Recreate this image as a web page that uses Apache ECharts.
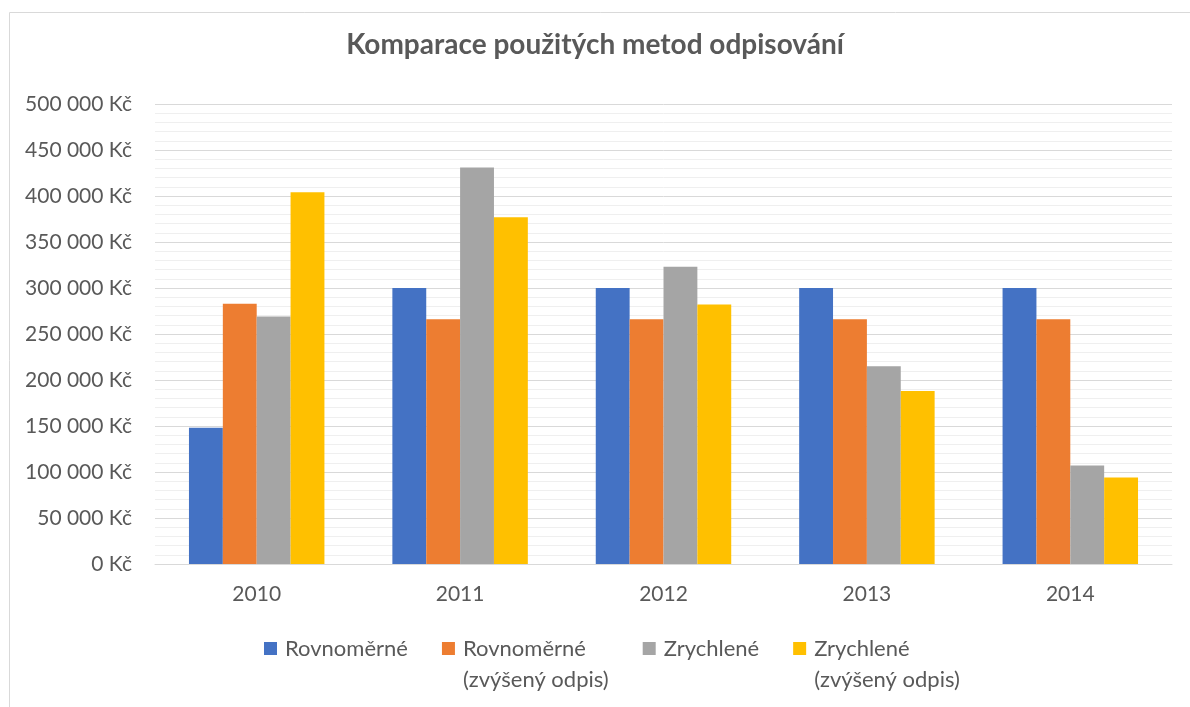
<!DOCTYPE html>
<html>
<head>
<meta charset="utf-8">
<script src="https://cdn.jsdelivr.net/npm/echarts@6/dist/echarts.min.js"></script>
<style>
  html, body { margin: 0; padding: 0; background: #fff; }
  #chart { width: 1190px; height: 707px; }
</style>
</head>
<body>
<div id="chart"></div>
<script>
// data
var years = ['2010', '2011', '2012', '2013', '2014'];
var seriesNames = ['Rovnoměrné', 'Rovnoměrné\n(zvýšený odpis)', 'Zrychlené', 'Zrychlené\n(zvýšený odpis)'];
var rovnomerne = [148000, 300000, 300000, 300000, 300000];
var rovnomerneZvyseny = [283000, 266000, 266000, 266000, 266000];
var zrychlene = [269000, 431000, 323000, 215000, 107000];
var zrychleneZvyseny = [404000, 377000, 282000, 188000, 94000];
var colors = ['#4472C4', '#ED7D31', '#A5A5A5', '#FFC000'];

var textColor = '#595959';
var font = 'Lato';

function kc(v) {
  return String(v).replace(/\B(?=(\d{3})+(?!\d))/g, ' ') + ' Kč';
}

var allData = [rovnomerne, rovnomerneZvyseny, zrychlene, zrychleneZvyseny];
var series = allData.map(function (d, i) {
  return {
    name: seriesNames[i],
    type: 'bar',
    data: d,
    barGap: '0%',
    barCategoryGap: '33.4%',
    itemStyle: { color: colors[i] }
  };
});

var chart = echarts.init(document.getElementById('chart'));
chart.setOption({
  animation: false,
  textStyle: { fontFamily: font },
  color: colors,
  graphic: [{
    type: 'rect',
    shape: { x: 9.5, y: 12.5, width: 1400, height: 900 },
    style: { fill: 'none', stroke: '#d9d9d9', lineWidth: 1 },
    z: -1
  }],
  title: {
    text: 'Komparace použitých metod odpisování',
    left: 'center',
    top: 26,
    padding: [5, 11, 5, 5],
    textStyle: { fontFamily: font, fontSize: 28, fontWeight: 'bold', color: textColor }
  },
  grid: { left: 155, right: 18, top: 104, bottom: 143 },
  xAxis: {
    type: 'category',
    data: years,
    axisLine: { lineStyle: { color: '#d9d9d9', width: 1 } },
    axisTick: { show: false },
    axisLabel: { color: textColor, fontSize: 21, fontFamily: font, margin: 20 }
  },
  yAxis: {
    type: 'value',
    min: 0,
    max: 500000,
    interval: 50000,
    axisLine: { show: false },
    axisTick: { show: false },
    axisLabel: { color: textColor, fontSize: 21, fontFamily: font, margin: 23, formatter: kc },
    splitLine: { lineStyle: { color: '#d9d9d9', width: 1 } },
    minorTick: { show: false, splitNumber: 5 },
    minorSplitLine: { show: true, lineStyle: { color: '#efefef', width: 1 } }
  },
  legend: {
    left: 259,
    top: 597,
    itemWidth: 13,
    itemHeight: 13,
    itemGap: 34,
    icon: 'rect',
    formatter: function (name) {
      // blank first line so the marker sits on the first text line
      var lines = name.split('\n');
      return '\u00a0\n' + lines[0] + '\n' + (lines[1] || '\u00a0');
    },
    textStyle: {
      color: textColor,
      fontSize: 22,
      fontFamily: font,
      lineHeight: 31,
      padding: [0, 0, 0, 3]
    }
  },
  series: series
});
</script>
</body>
</html>
